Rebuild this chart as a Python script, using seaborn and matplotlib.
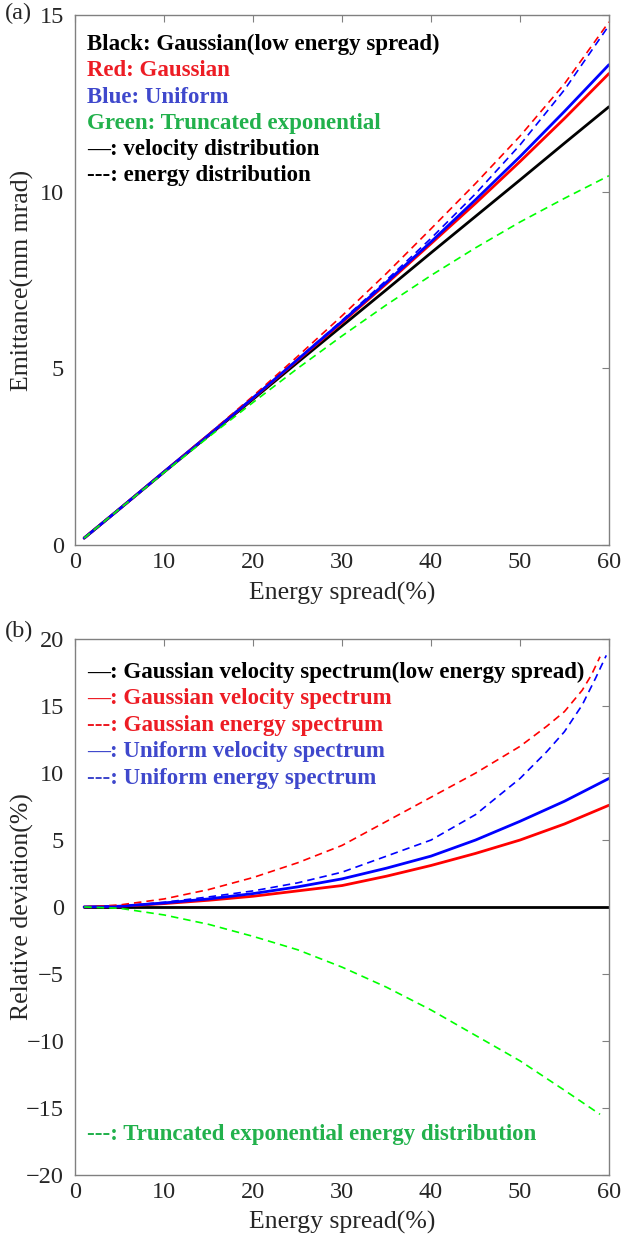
import matplotlib
matplotlib.use("Agg")
import matplotlib.pyplot as plt
import seaborn as sns

# energy spread (%) sample points
x_top = [1, 5, 10, 15, 20, 25, 30, 35, 40, 45, 50, 55, 60]

# (a) emittance (mm mrad)
black_vel = [0.2, 1.03, 2.07, 3.1, 4.13, 5.17, 6.2, 7.23, 8.27, 9.3, 10.33, 11.37, 12.4]
red_vel = [0.2, 1.03, 2.08, 3.12, 4.16, 5.23, 6.30, 7.40, 8.53, 9.67, 10.85, 12.07, 13.34]
blue_vel = [0.2, 1.03, 2.08, 3.12, 4.17, 5.25, 6.33, 7.44, 8.58, 9.77, 10.99, 12.27, 13.59]
red_en = [0.2, 1.03, 2.08, 3.14, 4.22, 5.34, 6.49, 7.69, 8.95, 10.23, 11.57, 13.05, 14.8]
blue_en = [0.2, 1.03, 2.08, 3.12, 4.18, 5.26, 6.36, 7.50, 8.68, 9.94, 11.32, 12.88, 14.7]
green_en = [0.2, 1.03, 2.06, 3.06, 4.04, 5.0, 5.92, 6.8, 7.63, 8.41, 9.14, 9.81, 10.45]

# (b) relative deviation (%)
x_vel = [1, 5, 10, 15, 20, 25, 30, 35, 40, 45, 50, 55, 60]
black_dev = [0, 0, 0, 0, 0, 0, 0, 0, 0, 0, 0, 0, 0]
red_vel_dev = [0, 0.05, 0.25, 0.5, 0.8, 1.2, 1.6, 2.3, 3.1, 4.0, 5.0, 6.2, 7.6]
blue_vel_dev = [0, 0.05, 0.3, 0.6, 1.0, 1.5, 2.1, 2.9, 3.8, 5.0, 6.4, 7.9, 9.6]
x_red_en = [1, 5, 10, 15, 20, 25, 30, 35, 40, 45, 50, 53, 55, 57, 58, 59]
red_en_dev = [0, 0.15, 0.6, 1.3, 2.2, 3.3, 4.6, 6.4, 8.2, 10.0, 12.0, 13.5, 14.6, 16.2, 17.3, 18.7]
x_blue_en = [1, 5, 10, 15, 20, 25, 30, 35, 40, 45, 50, 53, 55, 57, 58.5, 59.7]
blue_en_dev = [0, 0.05, 0.35, 0.75, 1.2, 1.8, 2.6, 3.8, 5.0, 6.9, 9.6, 11.6, 13.1, 15.1, 17.1, 18.8]
x_green = [1, 5, 10, 15, 20, 25, 30, 35, 40, 45, 50, 55, 59]
green_dev = [0, -0.1, -0.6, -1.3, -2.2, -3.2, -4.5, -6.0, -7.7, -9.6, -11.5, -13.7, -15.5]

sns.set_style("white")
plt.rcParams["font.family"] = ["Liberation Serif", "DejaVu Serif"]

RED, BLUE, GREEN = "#ff0000", "#0000ff", "#00ff00"
T_RED, T_BLUE, T_GREEN = "#ed1c24", "#3f48cc", "#22b14c"
SOLID = 2.0
DASH = dict(lw=1.2, linestyle=(0, (4.5, 3)))
LEG_FS = 16.5

fig = plt.figure(figsize=(6.22, 12.39), dpi=100)
ax1 = fig.add_axes([0.121, 0.560, 0.858, 0.428])
ax2 = fig.add_axes([0.121, 0.052, 0.858, 0.432])

# panel (a)
sns.lineplot(x=x_top, y=black_vel, ax=ax1, color="black", lw=SOLID)
sns.lineplot(x=x_top, y=red_vel, ax=ax1, color=RED, lw=SOLID)
sns.lineplot(x=x_top, y=blue_vel, ax=ax1, color=BLUE, lw=SOLID)
sns.lineplot(x=x_top, y=red_en, ax=ax1, color=RED, **DASH)
sns.lineplot(x=x_top, y=blue_en, ax=ax1, color=BLUE, **DASH)
sns.lineplot(x=x_top, y=green_en, ax=ax1, color=GREEN, **DASH)
ax1.set_xlim(0, 60)
ax1.set_ylim(0, 15)
ax1.set_yticks([0, 5, 10, 15])
ax1.set_ylabel("Emittance(mm mrad)", fontsize=18.5)

top_lines = [
    ("Black: Gaussian(low energy spread)", "black"),
    ("Red: Gaussian", T_RED),
    ("Blue: Uniform", T_BLUE),
    ("Green: Truncated exponential", T_GREEN),
    ("\u2014: velocity distribution", "black"),
    ("---: energy distribution", "black"),
]
for i, (txt, c) in enumerate(top_lines):
    ax1.text(0.022, 0.944 - i * 0.0495, txt, color=c, fontsize=LEG_FS,
             fontweight="bold", transform=ax1.transAxes, va="center")

# panel (b)
sns.lineplot(x=x_vel, y=black_dev, ax=ax2, color="black", lw=SOLID)
sns.lineplot(x=x_vel, y=red_vel_dev, ax=ax2, color=RED, lw=SOLID)
sns.lineplot(x=x_vel, y=blue_vel_dev, ax=ax2, color=BLUE, lw=SOLID)
sns.lineplot(x=x_red_en, y=red_en_dev, ax=ax2, color=RED, **DASH)
sns.lineplot(x=x_blue_en, y=blue_en_dev, ax=ax2, color=BLUE, **DASH)
sns.lineplot(x=x_green, y=green_dev, ax=ax2, color=GREEN, **DASH)
ax2.set_xlim(0, 60)
ax2.set_ylim(-20, 20)
ax2.set_yticks(range(-20, 21, 5))
ax2.set_yticklabels(["\u221220", "\u221215", "\u221210", "\u22125", "0", "5", "10", "15", "20"])
ax2.set_ylabel("Relative deviation(%)", fontsize=18.5)

bot_lines = [
    ("\u2014: Gaussian velocity spectrum(low energy spread)", "black"),
    ("\u2014: Gaussian velocity spectrum", T_RED),
    ("---: Gaussian energy spectrum", T_RED),
    ("\u2014: Uniform velocity spectrum", T_BLUE),
    ("---: Uniform energy spectrum", T_BLUE),
]
for i, (txt, c) in enumerate(bot_lines):
    ax2.text(0.022, 0.938 - i * 0.0494, txt, color=c, fontsize=LEG_FS,
             fontweight="bold", transform=ax2.transAxes, va="center")
ax2.text(0.022, 0.0746, "---: Truncated exponential energy distribution", color=T_GREEN,
         fontsize=LEG_FS, fontweight="bold", transform=ax2.transAxes, va="center")

for ax in (ax1, ax2):
    ax.set_xticks(range(0, 61, 10))
    ax.set_xlabel("Energy spread(%)", fontsize=18.5, labelpad=6)
    ax.tick_params(direction="in", length=5, width=0.8, color="#808080",
                   labelsize=17.5, top=True, right=True)
    ax.tick_params(axis="y", pad=8)
    ax.tick_params(axis="x", pad=5)
    ax.yaxis.set_label_coords(-0.078, 0.5)
    for s in ax.spines.values():
        s.set_color("#808080")
        s.set_linewidth(1.0)

fig.text(0.008, 0.989, "(a)", fontsize=17.5, va="center")
fig.text(0.008, 0.490, "(b)", fontsize=17.5, va="center")

fig.savefig("out.png", dpi=100)
